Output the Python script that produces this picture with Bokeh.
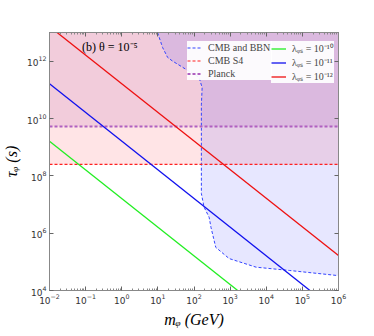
from bokeh.plotting import figure
from bokeh.models import (LogAxis, FixedTicker, CustomJSTickFormatter, Legend, LegendItem,
                          Label)
from bokeh.embed import file_html
from bokeh.resources import INLINE

# ---- data ----
m_range = [1e-2, 1e6]
tau_range = [1e4, 1e13]

x_ticks = [1e-2, 1e-1, 1e0, 1e1, 1e2, 1e3, 1e4, 1e5, 1e6]
y_ticks = [1e4, 1e6, 1e8, 1e10, 1e12]

planck_tau = 5.25e9
cmbs4_tau = 2.5e8

# CMB and BBN excluded-region boundary (m in GeV, tau in s)
bbn_m = [9.8, 13.5, 18.6, 25.1, 58.9, 138, 168, 160, 160, 190, 262, 295, 400, 940, 5250, 43650, 1e6]
bbn_tau = [1e13, 3.0e12, 1.35e12, 1.02e12, 5.25e11, 2.7e11, 1.2e11, 3.0e10, 2.4e7, 8.1e6, 3.6e6, 1.6e6, 3.2e5, 1.3e5, 6.5e4, 5.0e4, 3.3e4]

# lifetime lines for lambda = 1e-10, 1e-11, 1e-12 (end points inside frame)
lam_labels = ["λᵩₛ = 10⁻¹⁰", "λᵩₛ = 10⁻¹¹", "λᵩₛ = 10⁻¹²"]
lam_colors = ["#22ee22", "#1010ee", "#ee1010"]
lam_m = [[1e-2, 1.62e3], [1e-2, 1.62e5], [1.62e-2, 1e6]]
lam_tau = [[1.62e9, 1e4], [1.62e11, 1e4], [1e13, 1.66e5]]

p = figure(width=350, height=320, x_axis_type="log", y_axis_type="log",
           x_range=(m_range[0], m_range[1]), y_range=(tau_range[0], tau_range[1]),
           output_backend="svg", toolbar_location=None,
           frame_width=289, frame_height=258,
           min_border_left=39, min_border_right=10, min_border_top=32, min_border_bottom=10)
p.background_fill_color = "white"
p.border_fill_color = "white"
p.outline_line_color = "#888888"
p.xgrid.visible = False
p.ygrid.visible = False

# regions
p.varea(x=m_range, y1=[cmbs4_tau, cmbs4_tau], y2=[tau_range[1], tau_range[1]],
        fill_color="#ff2030", fill_alpha=0.12)
p.varea(x=m_range, y1=[planck_tau, planck_tau], y2=[tau_range[1], tau_range[1]],
        fill_color="#800080", fill_alpha=0.10)
p.patch(x=bbn_m + [1e6], y=bbn_tau + [1e13], fill_color="#2020ff", fill_alpha=0.11,
        line_color=None)

r_bbn = p.line(bbn_m, bbn_tau, line_color="#3344ff", line_dash="3 2", line_width=1)
r_s4 = p.line(m_range, [cmbs4_tau, cmbs4_tau], line_color="#ff2020", line_dash="3 2", line_width=1.2)
r_pl = p.line(m_range, [planck_tau, planck_tau], line_color="#b060c0", line_dash="3 2", line_width=2)

lam_r = []
for mm, tt, c in zip(lam_m, lam_tau, lam_colors):
    lam_r.append(p.line(mm, tt, line_color=c, line_width=1.3))

# axes styling
def style(ax, ticks, minor):
    ax.ticker = FixedTicker(ticks=ticks, minor_ticks=minor)
    ax.axis_line_color = "#888888"
    ax.major_tick_in = 4
    ax.major_tick_out = 0
    ax.minor_tick_in = 2
    ax.minor_tick_out = 0
    ax.major_tick_line_color = "#666666"
    ax.minor_tick_line_color = "#888888"
    ax.major_label_text_font = "DejaVu Sans"
    ax.major_label_text_font_size = "9px"
    ax.major_label_text_color = "#333333"
    ax.major_label_standoff = 3

x_minor = [k * 10.0 ** e for e in range(-2, 6) for k in range(2, 10)]
y_minor = []

style(p.xaxis[0], x_ticks, x_minor)
style(p.yaxis[0], y_ticks, y_minor)
p.xaxis[0].axis_label = "mᵩ (GeV)"
p.yaxis[0].axis_label = "τᵩ (s)"
for ax in (p.xaxis[0], p.yaxis[0]):
    ax.axis_label_text_font = "Liberation Serif"
    ax.axis_label_text_font_size = "16px"
    ax.axis_label_text_font_style = "italic"
    ax.axis_label_text_color = "black"
    ax.axis_label_standoff = 4

blank = CustomJSTickFormatter(code="return ''")
top = LogAxis(formatter=blank)
right = LogAxis(formatter=blank)
style(top, x_ticks, x_minor)
style(right, y_ticks, y_minor)
top.major_label_standoff = 0
right.major_label_standoff = 0
p.add_layout(top, "above")
p.add_layout(right, "right")

# annotation
p.add_layout(Label(x=10 ** -1.1, y=10 ** 12.48, text="(b)  θ = 10⁻⁵",
                   text_font="Liberation Serif", text_font_size="12px",
                   text_baseline="middle", text_color="black"))

def make_legend(items, loc, lw):
    leg = Legend(items=items, location=loc)
    leg.label_text_font = "Liberation Serif"
    leg.label_text_font_size = "10px"
    leg.glyph_height = 13
    leg.glyph_width = 15
    leg.label_height = 13
    leg.label_width = lw
    leg.label_standoff = 6
    leg.spacing = 0
    leg.padding = 3
    leg.margin = 0
    leg.border_line_color = None
    leg.background_fill_color = "white"
    leg.background_fill_alpha = 0.92
    return leg

items_a = [LegendItem(label="CMB and BBN", renderers=[r_bbn]),
           LegendItem(label="CMB S4", renderers=[r_s4]),
           LegendItem(label="Planck", renderers=[r_pl])]
items_b = [LegendItem(label=lab, renderers=[r]) for lab, r in zip(lam_labels, lam_r)]
p.add_layout(make_legend(items_a, (138, 210), 64))
p.add_layout(make_legend(items_b, (222, 207), 36))

open("out.html", "w").write(file_html(p, INLINE))
